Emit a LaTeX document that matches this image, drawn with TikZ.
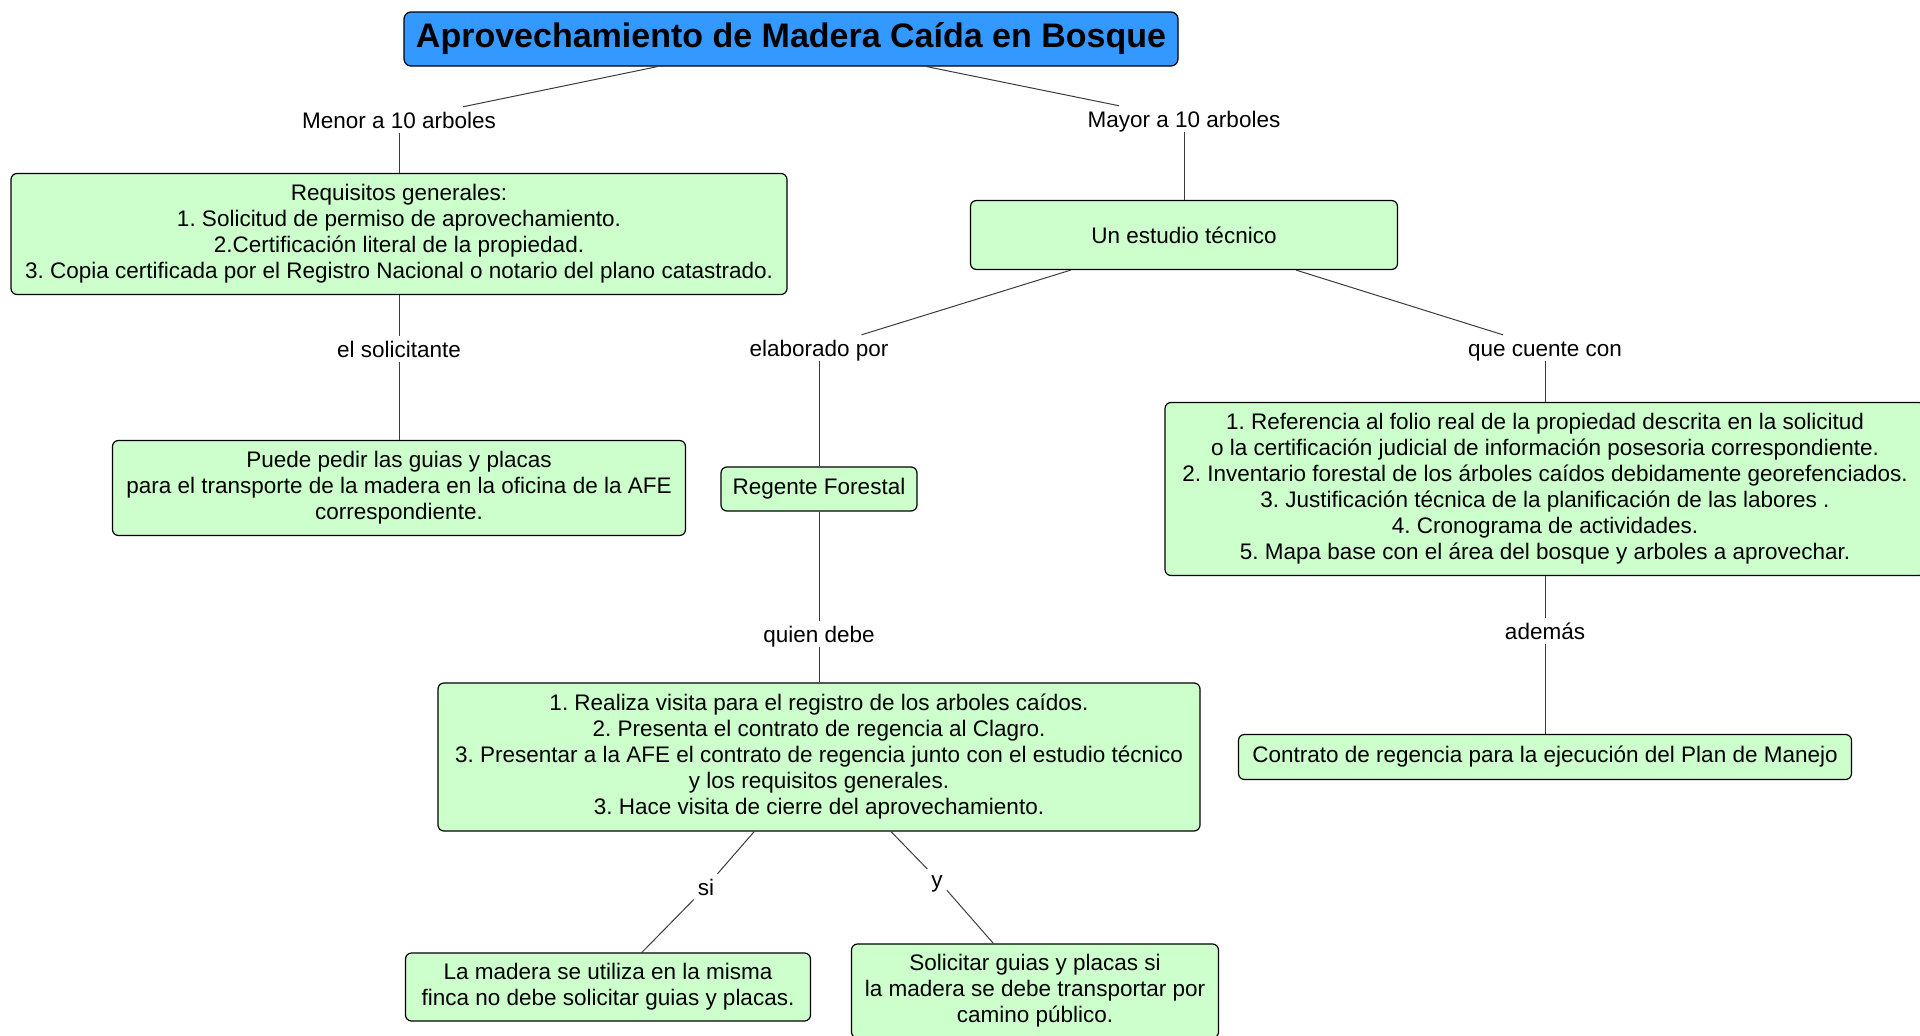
\documentclass[tikz,border=0pt]{standalone}
\usepackage{fontspec}
\setmainfont{Liberation Sans}
\usepackage{tikz}
\usetikzlibrary{shapes,positioning}
\frenchspacing
\definecolor{conceptgreen}{RGB}{204,255,204}
\definecolor{topicblue}{RGB}{51,153,255}
\definecolor{edgegray}{RGB}{60,60,60}
\tikzstyle{concept} = [rectangle, rounded corners=6pt, minimum width=200pt, minimum height=44pt, text centered, align=center,
     draw=black, line width=1.2pt, fill=conceptgreen, inner sep=4pt, font=\fontsize{22.5}{26}\selectfont]
\tikzstyle{topic} = [rectangle, rounded corners=7pt, minimum width=774pt, minimum height=54pt, text centered,
     draw=black, line width=1.2pt, fill=topicblue, font=\fontsize{34}{38}\selectfont\bfseries]
\tikzstyle{phrase} = [rectangle, text centered, inner sep=4pt, text height=17pt, text depth=1pt,
     font=\fontsize{22.5}{26}\selectfont]
\tikzstyle{link} = [draw=edgegray, line width=1pt]

\begin{document}
\begin{tikzpicture}[x=1pt, y=-1pt, node distance=30pt]
\useasboundingbox (0,0) rectangle (1920,1036);
\fill[white] (0,0) rectangle (1920,1036);

\node (title) [topic] at (791,39) {Aprovechamiento de Madera Caída en Bosque};

% rama izquierda
\node (menor) [phrase, below of=title, xshift=-392pt, yshift=-51pt] {Menor a 10 arboles};
\node (requisitos) [concept, below of=menor, yshift=-84pt, minimum width=776pt, minimum height=121pt]
{Requisitos generales:\\ 1. Solicitud de permiso de aprovechamiento.\\ 2.Certificación literal de la propiedad.\\
3. Copia certificada por el Registro Nacional o notario del plano catastrado.};
\node (solicitante) [phrase, below of=requisitos, yshift=-85pt] {el solicitante};
\node (puede) [concept, below of=solicitante, yshift=-109pt, minimum width=573pt, minimum height=95pt]
{Puede pedir las guias y placas\\ para el transporte de la madera en la oficina de la AFE\\ correspondiente.};

% rama derecha
\node (mayor) [phrase, below of=title, xshift=393pt, yshift=-50pt] {Mayor a 10 arboles};
\node (estudio) [concept, below of=mayor, yshift=-86pt, minimum width=427pt, minimum height=69pt] {Un estudio técnico};

\node (elaborado) [phrase, below of=estudio, xshift=-365pt, yshift=-83pt] {elaborado por};
\node (regente) [concept, below of=elaborado, yshift=-111pt, minimum width=196pt, minimum height=44pt] {Regente Forestal};
\node (quien) [phrase, below of=regente, yshift=-115pt] {quien debe};
\node (realiza) [concept, below of=quien, yshift=-93pt, minimum width=762pt, minimum height=148pt]
{1. Realiza visita para el registro de los arboles caídos.\\ 2. Presenta el contrato de regencia al Clagro.\\
3. Presentar a la AFE el contrato de regencia junto con el estudio técnico\\ y los requisitos generales.\\
3. Hace visita de cierre del aprovechamiento.};
\node (si) [phrase, below of=realiza, xshift=-113pt, yshift=-100pt] {si};
\node (madera) [concept, below of=si, xshift=-98pt, yshift=-70pt, minimum width=405pt, minimum height=68pt]
{La madera se utiliza en la misma\\ finca no debe solicitar guias y placas.};
\node (y) [phrase, below of=realiza, xshift=118pt, yshift=-92pt] {y};
\node (solicitar) [concept, below of=y, xshift=98pt, yshift=-82pt, minimum width=367pt, minimum height=94pt]
{Solicitar guias y placas si\\ la madera se debe transportar por\\ camino público.};

\node (cuente) [phrase, below of=estudio, xshift=361pt, yshift=-83pt] {que cuente con};
\node (referencia) [concept, below of=cuente, yshift=-111pt, minimum width=760pt, minimum height=173pt]
{1. Referencia al folio real de la propiedad descrita en la solicitud\\
o la certificación judicial de información posesoria correspondiente.\\
2. Inventario forestal de los árboles caídos debidamente georefenciados.\\
3. Justificación técnica de la planificación de las labores .\\
4. Cronograma de actividades.\\
5. Mapa base con el área del bosque y arboles a aprovechar.};
\node (ademas) [phrase, below of=referencia, yshift=-112pt] {además};
\node (contrato) [concept, below of=ademas, yshift=-96pt, minimum width=613pt, minimum height=45pt]
{Contrato de regencia para la ejecución del Plan de Manejo};

\path [link] (title) -- (menor);
\path [link] (menor) -- (requisitos);
\path [link] (requisitos) -- (solicitante);
\path [link] (solicitante) -- (puede);
\path [link] (title) -- (mayor);
\path [link] (mayor) -- (estudio);
\path [link] (estudio) -- (elaborado);
\path [link] (elaborado) -- (regente);
\path [link] (regente) -- (quien);
\path [link] (quien) -- (realiza);
\path [link] (realiza) -- (si);
\path [link] (si) -- (madera);
\path [link] (realiza) -- (y);
\path [link] (y) -- (solicitar);
\path [link] (estudio) -- (cuente);
\path [link] (cuente) -- (referencia);
\path [link] (referencia) -- (ademas);
\path [link] (ademas) -- (contrato);

\end{tikzpicture}
\end{document}
